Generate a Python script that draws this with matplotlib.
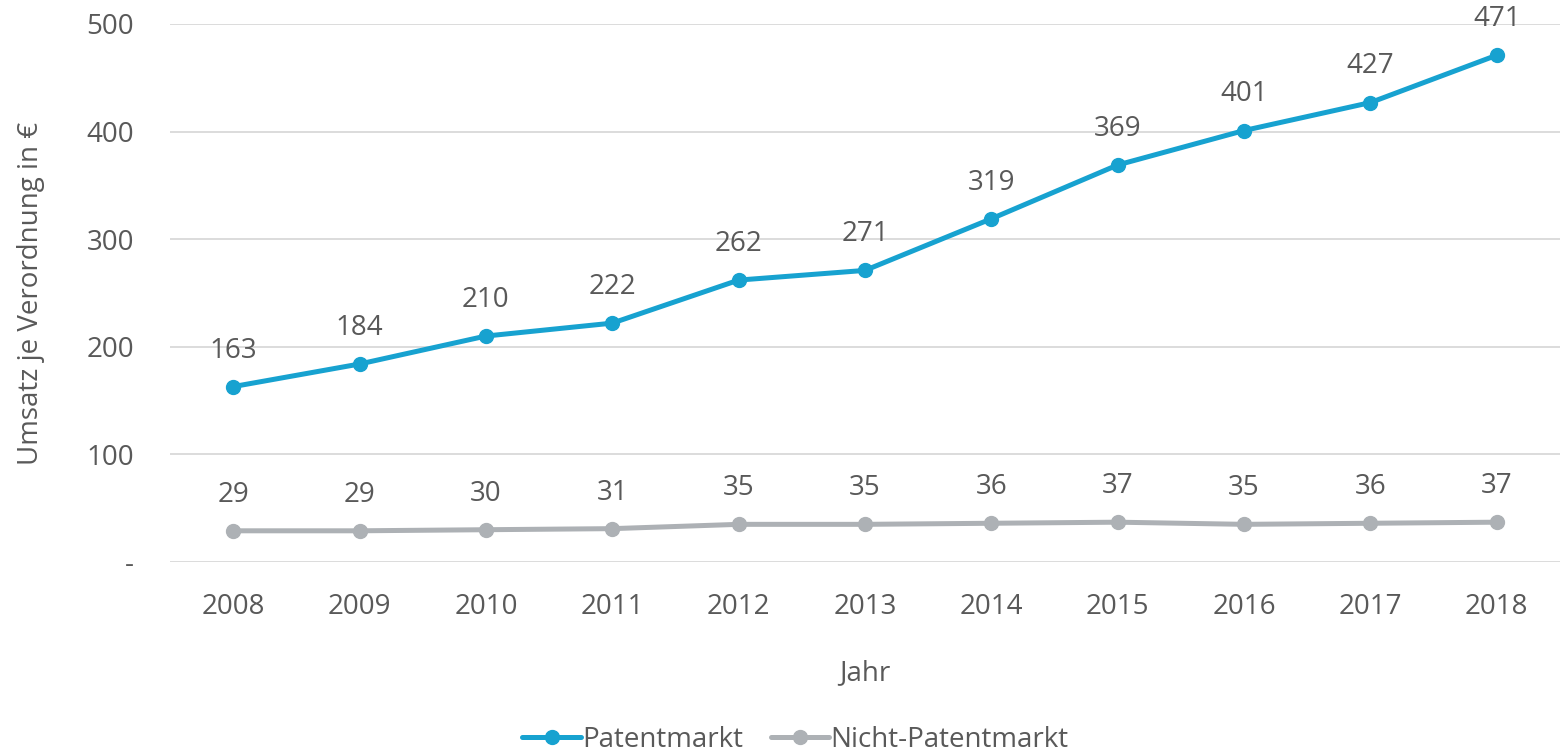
import matplotlib
matplotlib.use("Agg")
import matplotlib.pyplot as plt

years = ["2008", "2009", "2010", "2011", "2012", "2013", "2014", "2015", "2016", "2017", "2018"]
patent = [163, 184, 210, 222, 262, 271, 319, 369, 401, 427, 471]
nicht_patent = [29, 29, 30, 31, 35, 35, 36, 37, 35, 36, 37]
yticks = [0, 100, 200, 300, 400, 500]
ytick_labels = ["-", "100", "200", "300", "400", "500"]

BLUE = "#17A2D0"
GRAY = "#ADB1B5"
TEXT = "#595959"
FS = 20

plt.rcParams['font.family'] = ['Open Sans', 'DejaVu Sans']

fig = plt.figure(figsize=(15.6, 7.56), dpi=100)
ax = fig.add_axes([170/1560, 1 - 562/756, 1 - 170/1560, (562 - 24)/756])

x = list(range(len(years)))
ax.plot(x, patent, color=BLUE, lw=3.6, marker='o', ms=10, label="Patentmarkt", solid_capstyle='round')
ax.plot(x, nicht_patent, color=GRAY, lw=3.6, marker='o', ms=10, label="Nicht-Patentmarkt", solid_capstyle='round')

for xi, v in zip(x, patent):
    ax.annotate(str(v), (xi, v), xytext=(0, 26), textcoords='offset points',
                ha='center', va='center', fontsize=FS, color=TEXT)
for xi, v in zip(x, nicht_patent):
    ax.annotate(str(v), (xi, v), xytext=(0, 26), textcoords='offset points',
                ha='center', va='center', fontsize=FS, color=TEXT)

ax.set_xlim(-0.5, 10.5)
ax.set_ylim(0, 500)
ax.set_xticks(x)
ax.set_xticklabels(years)
ax.set_yticks(yticks)
ax.set_yticklabels(ytick_labels)
ax.tick_params(axis='both', length=0, labelsize=FS, labelcolor=TEXT)
ax.tick_params(axis='y', pad=26)
ax.tick_params(axis='x', pad=22)
ax.grid(axis='y', color='#D9D9D9', lw=1.3)
ax.set_axisbelow(True)
for s in ax.spines.values():
    s.set_visible(False)

ax.set_ylabel("Umsatz je Verordnung in €", fontsize=FS, color=TEXT, labelpad=30)
ax.set_xlabel("Jahr", fontsize=FS, color=TEXT, labelpad=28)

fig.legend(loc='lower center', bbox_to_anchor=(0.51, -0.03), ncol=2, frameon=False,
           fontsize=FS, labelcolor=TEXT, handlelength=2.1, handletextpad=0.05,
           columnspacing=1.0)

fig.savefig("out.png", dpi=100)
